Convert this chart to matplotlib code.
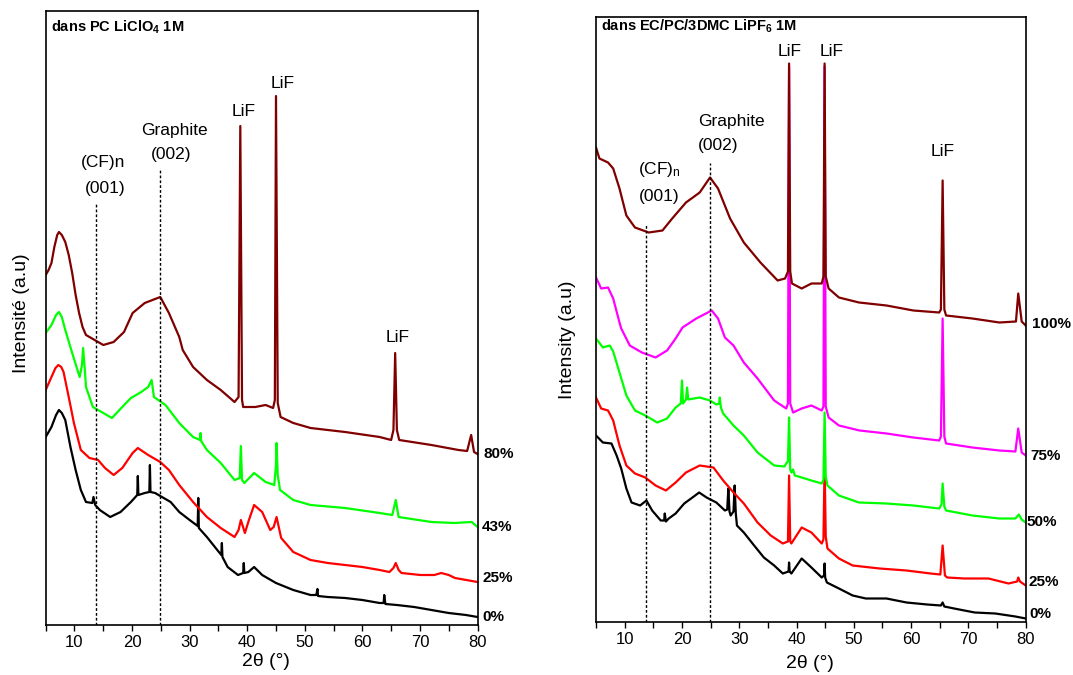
import matplotlib
matplotlib.use('Agg')
import matplotlib.pyplot as plt
from matplotlib.ticker import MultipleLocator

plt.rcParams['font.family'] = ['Liberation Sans', 'DejaVu Sans']
plt.rcParams['mathtext.fontset'] = 'custom'
plt.rcParams['mathtext.rm'] = 'Liberation Sans'
plt.rcParams['mathtext.it'] = 'Liberation Sans:italic'
plt.rcParams['mathtext.bf'] = 'Liberation Sans:bold'

# ---- left panel : PC LiClO4 1M (2theta in deg, intensity a.u.) ----
pc0_tt = [5.0, 6.0, 6.8, 7.3, 7.8, 8.4, 9.3, 10.2, 11.1, 12.0, 13.1, 13.3, 13.6, 14.4, 16.2, 18.0, 19.8,
          20.9, 21.0, 21.1, 22.2, 23.0, 23.1, 23.2, 24.0, 25.2, 26.7, 28.2, 30.0, 31.4, 31.5, 31.6,
          33.0, 34.8, 35.5, 35.6, 35.7, 36.6, 38.4, 39.3, 39.4, 39.5, 40.2, 41.2, 42.6, 45.0, 48.0,
          51.0, 52.0, 52.2, 52.3, 54.0, 57.0, 60.0, 63.0, 63.7, 63.8, 64.0, 66.0, 69.0, 72.0, 75.0,
          78.0, 80.0]
pc0_int = [188, 198, 210, 215, 212, 205, 178, 155, 135, 123, 122, 128, 120, 115, 108, 113, 123,
           130, 149, 130, 132, 133, 160, 133, 132, 128, 123, 113, 105, 99, 127, 97,
           88, 75, 70, 82, 68, 58, 50, 52, 62, 52, 53, 58, 50, 42, 35,
           30, 30, 36, 29, 28, 27, 25, 22, 22, 30, 21, 20, 18, 15, 12,
           10, 8]

pc25_tt = [5.0, 6.0, 6.7, 7.2, 7.7, 8.1, 9.0, 9.9, 11.1, 12.6, 14.1, 15.3, 16.8, 18.3, 20.1, 21.0, 22.8,
           24.9, 26.4, 28.2, 30.6, 33.0, 35.4, 37.8, 38.5, 38.9, 39.6, 40.3, 41.2, 42.6, 44.0, 44.6,
           45.1, 45.9, 48.0, 51.0, 54.0, 57.0, 60.0, 63.0, 64.7, 65.4, 65.8, 66.3, 66.8, 70.1, 72.5,
           73.7, 75.0, 76.1, 80.0]
pc25_int = [235, 248, 257, 260, 258, 253, 228, 202, 175, 167, 165, 157, 150, 157, 172, 177, 170,
            163, 155, 140, 123, 108, 97, 88, 95, 105, 92, 105, 120, 113, 95, 98,
            108, 87, 73, 65, 62, 60, 58, 55, 53, 57, 62, 55, 52, 50, 50,
            52, 50, 47, 43]

pc43_tt = [5.0, 6.0, 6.8, 7.3, 7.8, 8.4, 9.6, 10.9, 11.3, 11.5, 11.8, 12.0, 13.2, 15.0, 16.5, 18.3, 19.8,
           21.6, 22.8, 23.4, 23.8, 25.8, 28.2, 30.6, 31.8, 31.9, 32.0, 33.0, 35.4, 37.8, 38.7, 38.9,
           39.1, 39.5, 41.2, 43.2, 44.7, 45.0, 45.1, 45.3, 45.7, 48.0, 51.0, 57.0, 63.0, 65.2, 65.8,
           66.3, 72.0, 76.0, 79.0, 80.0]
pc43_int = [292, 300, 310, 313, 308, 295, 272, 248, 260, 277, 255, 238, 218, 212, 207, 218, 227,
            233, 238, 245, 228, 220, 202, 188, 185, 192, 184, 175, 162, 145, 147, 179,
            145, 142, 152, 143, 140, 160, 182, 150, 135, 125, 120, 117, 112, 110, 125,
            108, 103, 102, 103, 98]

pc80_tt = [5.0, 5.5, 6.0, 6.5, 7.0, 7.3, 7.8, 8.4, 9.0, 9.6, 10.2, 10.8, 11.4, 12.0, 13.5, 15.0, 16.8,
           18.6, 20.1, 22.2, 24.9, 26.4, 28.2, 28.8, 30.6, 33.0, 35.4, 37.8, 38.5, 38.8, 39.1, 39.3,
           41.4, 43.2, 44.5, 44.8, 45.0, 45.3, 45.8, 48.0, 51.0, 57.0, 63.0, 65.0, 65.4, 65.7, 66.0,
           66.4, 72.0, 76.7, 78.2, 78.9, 79.4, 80.0]
pc80_int = [350, 355, 362, 378, 390, 393, 390, 383, 370, 352, 330, 312, 298, 290, 285, 280, 283,
            293, 312, 322, 328, 312, 288, 275, 258, 245, 235, 223, 228, 499, 225, 218,
            218, 220, 217, 225, 529, 222, 208, 202, 197, 193, 188, 185, 195, 272, 195,
            185, 180, 175, 174, 190, 173, 171]

# ---- right panel : EC/PC/3DMC LiPF6 1M ----
ec0_tt = [5.0, 6.2, 7.7, 8.6, 9.4, 10.3, 11.2, 12.7, 13.8, 14.8, 16.3, 16.9, 17.0, 17.2, 17.7,
          18.9, 20.4, 21.6, 23.0, 24.3, 26.0, 27.5, 27.9, 28.1, 28.3, 28.5, 29.0, 29.2, 29.4, 29.6,
          30.8, 32.6, 34.3, 36.1, 37.6, 38.6, 38.7, 38.8, 39.1, 40.9, 42.6, 44.4, 44.8, 44.9, 45.0,
          45.3, 47.4, 49.8, 52.1, 55.7, 59.2, 62.8, 65.2, 65.5, 65.8, 67.5, 71.1, 74.7, 78.2, 80.0]
ec0_int = [186, 179, 178, 166, 153, 133, 119, 116, 121, 111, 101, 101, 108, 100, 103,
           108, 118, 123, 129, 124, 119, 111, 112, 133, 110, 106, 110, 136, 108, 96,
           89, 76, 64, 56, 48, 50, 59, 50, 48, 63, 54, 44, 46, 58, 44,
           39, 33, 26, 23, 23, 19, 17, 16, 19, 15, 13, 9, 8, 5, 3]

ec25_tt = [5.0, 5.9, 7.1, 8.0, 9.1, 10.3, 11.8, 13.6, 15.4, 17.2, 18.9, 20.7, 23.1, 25.5, 27.2,
           29.0, 30.8, 33.2, 35.5, 37.6, 38.5, 38.7, 38.9, 39.1, 40.9, 42.6, 44.4, 44.7, 44.9, 45.1,
           45.4, 47.4, 49.8, 54.5, 59.2, 63.4, 65.1, 65.5, 65.9, 66.3, 69.3, 73.5, 77.0, 78.5, 78.7,
           79.0, 80.0]
ec25_int = [224, 213, 211, 201, 176, 156, 148, 144, 136, 131, 139, 149, 156, 154, 141,
            129, 118, 99, 86, 78, 80, 146, 80, 78, 94, 89, 78, 82, 158, 85,
            73, 63, 56, 53, 51, 48, 47, 76, 46, 44, 43, 43, 38, 40, 44,
            40, 36]

ec50_tt = [5.0, 6.2, 7.4, 8.0, 9.1, 10.3, 11.8, 13.6, 15.7, 17.4, 18.9, 19.8, 20.0, 20.2, 20.7,
           20.9, 21.1, 23.1, 24.9, 26.0, 26.5, 26.6, 26.8, 27.2, 29.0, 30.8, 33.2, 36.1, 37.9, 38.3,
           38.5, 38.7, 38.9, 39.1, 39.4, 39.7, 40.9, 42.6, 44.4, 44.7, 44.9, 45.1, 45.4, 47.4, 50.9,
           55.7, 60.4, 64.9, 65.3, 65.5, 65.8, 66.1, 70.7, 75.4, 78.2, 78.8, 79.3, 80.0]
ec50_int = [283, 274, 276, 270, 249, 226, 211, 206, 199, 203, 214, 218, 241, 218, 222,
            234, 222, 224, 221, 217, 218, 224, 214, 208, 196, 186, 169, 156, 155, 159,
            160, 204, 152, 149, 152, 146, 144, 141, 138, 142, 209, 145, 136, 126, 119,
            118, 116, 113, 117, 138, 115, 111, 106, 103, 103, 107, 102, 99]

ec75_tt = [5.0, 5.9, 7.1, 8.0, 9.1, 9.4, 10.9, 13.0, 15.4, 17.4, 18.9, 20.1, 22.5, 25.2, 26.3,
           27.5, 29.0, 30.8, 33.2, 36.1, 38.2, 38.5, 38.7, 38.9, 39.4, 40.9, 42.6, 44.4, 44.7, 44.9,
           45.1, 45.6, 47.4, 51.0, 55.7, 60.4, 64.9, 65.2, 65.5, 65.8, 66.1, 70.7, 75.4, 78.2, 78.7,
           79.3, 80.0]
ec75_int = [344, 333, 334, 323, 299, 293, 276, 269, 264, 271, 283, 294, 303, 311, 303,
            284, 276, 259, 243, 221, 213, 218, 555, 218, 209, 213, 216, 211, 215, 555,
            215, 204, 196, 191, 188, 184, 181, 185, 303, 185, 178, 174, 171, 170, 193,
            169, 166]

ec100_tt = [5.0, 5.6, 7.1, 8.0, 9.1, 10.3, 11.8, 14.2, 16.6, 18.3, 20.7, 23.1, 24.9, 26.3, 28.4,
            30.8, 33.7, 36.7, 38.0, 38.5, 38.7, 38.9, 39.2, 40.9, 42.6, 44.4, 44.7, 44.9, 45.1, 45.6,
            47.4, 50.9, 55.7, 60.4, 64.9, 65.2, 65.5, 65.8, 66.1, 70.7, 75.4, 78.3, 78.7, 79.3, 80.0]
ec100_int = [474, 463, 459, 453, 433, 406, 394, 389, 391, 403, 419, 429, 444, 433, 403,
             379, 359, 341, 343, 350, 558, 350, 338, 333, 338, 338, 345, 558, 345, 333,
             324, 319, 316, 311, 309, 312, 441, 312, 306, 303, 299, 300, 328, 300, 296]

pc_series = [(pc0_tt, pc0_int, 'black', '0%', 7.7, 80.8),
             (pc25_tt, pc25_int, '#ff0000', '25%', 47, 80.9),
             (pc43_tt, pc43_int, '#00ff00', '43%', 98, 80.7),
             (pc80_tt, pc80_int, '#800000', '80%', 171, 81.1)]
ec_series = [(ec0_tt, ec0_int, 'black', '0%', 7, 80.6),
             (ec25_tt, ec25_int, '#ff0000', '25%', 39, 80.45),
             (ec50_tt, ec50_int, '#00ff00', '50%', 99, 80.2),
             (ec75_tt, ec75_int, '#ff00ff', '75%', 165, 80.75),
             (ec100_tt, ec100_int, '#800000', '100%', 298, 81.05)]

W, H = 1073, 675
fig = plt.figure(figsize=(W / 100, H / 100), dpi=100)
ax1 = fig.add_axes([45.7 / W, (H - 625) / H, 431.8 / W, 614 / H])
ax2 = fig.add_axes([596 / W, (H - 621.5) / H, 429.7 / W, 605 / H])


def style(ax, ymax):
    ax.set_xlim(5, 80)
    ax.set_ylim(0, ymax)
    ax.xaxis.set_major_locator(MultipleLocator(10))
    ax.xaxis.set_minor_locator(MultipleLocator(5))
    ax.tick_params(axis='x', which='both', direction='out', length=4, width=1, labelsize=12)
    ax.set_yticks([])
    for sp in ax.spines.values():
        sp.set_linewidth(1.2)


def draw(ax, series):
    for tt, inten, col, lab, ylab, xlab in series:
        ax.plot(tt, inten, color=col, lw=1.6)
        ax.text(xlab, ylab, lab, fontsize=11, fontweight='bold', ha='left', va='center',
                clip_on=False)


# left panel
style(ax1, 614)
draw(ax1, pc_series)
ax1.plot([13.7, 13.7], [0, 422], color='black', lw=1, ls=(0, (2, 1.5)))
ax1.plot([24.8, 24.8], [0, 457], color='black', lw=1, ls=(0, (2, 1.5)))
ax1.text(0.013, 0.974, r'dans PC LiClO$_\mathbf{4}$ 1M', transform=ax1.transAxes,
         fontsize=10.5, fontweight='bold', ha='left', va='center')
ann = 12.5
ax1.text(14.9, 462, '(CF)n', fontsize=ann, ha='center', va='center')
ax1.text(15.4, 437, '(001)', fontsize=ann, ha='center', va='center')
ax1.text(27.3, 494, 'Graphite', fontsize=ann, ha='center', va='center')
ax1.text(26.8, 470, '(002)', fontsize=ann, ha='center', va='center')
ax1.text(39.45, 514, 'LiF', fontsize=ann, ha='center', va='center')
ax1.text(46.2, 542, 'LiF', fontsize=ann, ha='center', va='center')
ax1.text(66.2, 288, 'LiF', fontsize=ann, ha='center', va='center')

# right panel
style(ax2, 605)
draw(ax2, ec_series)
ax2.plot([13.8, 13.8], [0, 397], color='black', lw=1, ls=(0, (2, 1.5)))
ax2.plot([24.9, 24.9], [0, 459], color='black', lw=1, ls=(0, (2, 1.5)))
ax2.text(0.012, 0.983, r'dans EC/PC/3DMC LiPF$_\mathbf{6}$ 1M', transform=ax2.transAxes,
         fontsize=10.5, fontweight='bold', ha='left', va='center')
ax2.text(16.1, 452, r'(CF)$_\mathrm{n}$', fontsize=ann, ha='center', va='center')
ax2.text(16.1, 425, '(001)', fontsize=ann, ha='center', va='center')
ax2.text(28.7, 500, 'Graphite', fontsize=ann, ha='center', va='center')
ax2.text(26.3, 476, '(002)', fontsize=ann, ha='center', va='center')
ax2.text(38.8, 570, 'LiF', fontsize=ann, ha='center', va='center')
ax2.text(46.1, 570, 'LiF', fontsize=ann, ha='center', va='center')
ax2.text(65.5, 470, 'LiF', fontsize=ann, ha='center', va='center')

# axis labels
fig.text(22 / W, 1 - 313 / H, 'Intensité (a.u)', rotation=90, fontsize=14, ha='center', va='center')
fig.text(567 / W, 1 - 340 / H, 'Intensity (a.u)', rotation=90, fontsize=14, ha='center', va='center')
fig.text(266 / W, 1 - 662 / H, '2θ (°)', fontsize=14, ha='center', va='center')
fig.text(810 / W, 1 - 663 / H, '2θ (°)', fontsize=14, ha='center', va='center')

fig.savefig('out.png', dpi=100)
